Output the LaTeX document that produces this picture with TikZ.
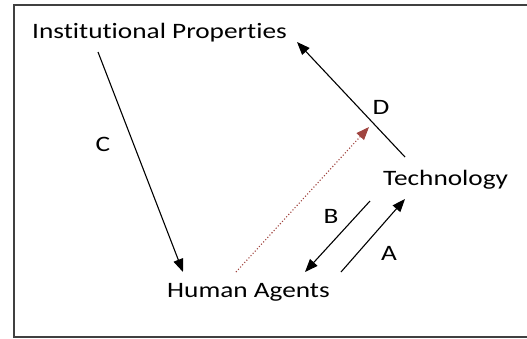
\documentclass[tikz,border=0pt]{standalone}
\usepackage{fontspec}
\setmainfont[FakeStretch=1.24,Ligatures={NoCommon}]{Carlito}
\usetikzlibrary{arrows.meta}
\definecolor{framegray}{HTML}{404040}
\definecolor{dotred}{HTML}{A0443F}
\begin{document}
\begin{tikzpicture}[x=1pt,y=-1pt,
  lbl/.style={inner sep=0pt,font=\fontsize{22}{26}\selectfont},
  conn/.style={line width=1.1pt,-{Triangle[length=13pt,width=10pt]}},
  dotconn/.style={line width=1.1pt,dotred,dotted,-{Triangle[length=13pt,width=10pt]}}]
\useasboundingbox (0,0) rectangle (527,338);
\draw[framegray,line width=2pt] (530,4.5) -- (13.5,4.5) -- (13.5,337) -- (530,337);
% texts
\node[lbl,anchor=base west] (ip) at (32,38) {Institutional Properties};
\node[lbl,anchor=base west] (tech) at (383,185) {Technology};
\node[lbl,anchor=base west] (ha) at (167,297) {Human Agents};
\node[lbl,anchor=base] (c) at (103,151) {C};
\node[lbl,anchor=base] (d) at (381,114) {D};
\node[lbl,anchor=base] (b) at (331,223) {B};
\node[lbl,anchor=base] (a) at (389,260) {A};
% endpoints
\coordinate (c1) at (98,52);
\coordinate (c2) at (183,272);
\coordinate (d1) at (405,157);
\coordinate (d2) at (297,42);
\coordinate (r1) at (236,272);
\coordinate (r2) at (369,127);
\coordinate (b1) at (370,201);
\coordinate (b2) at (305,272);
\coordinate (a1) at (341,272);
\coordinate (a2) at (405,199);
% connectors
\draw[conn] (c1) -- (c2);
\draw[conn] (d1) -- (d2);
\draw[conn] (b1) -- (b2);
\draw[conn] (a1) -- (a2);
\draw[dotconn] (r1) -- (r2);
\end{tikzpicture}
\end{document}
